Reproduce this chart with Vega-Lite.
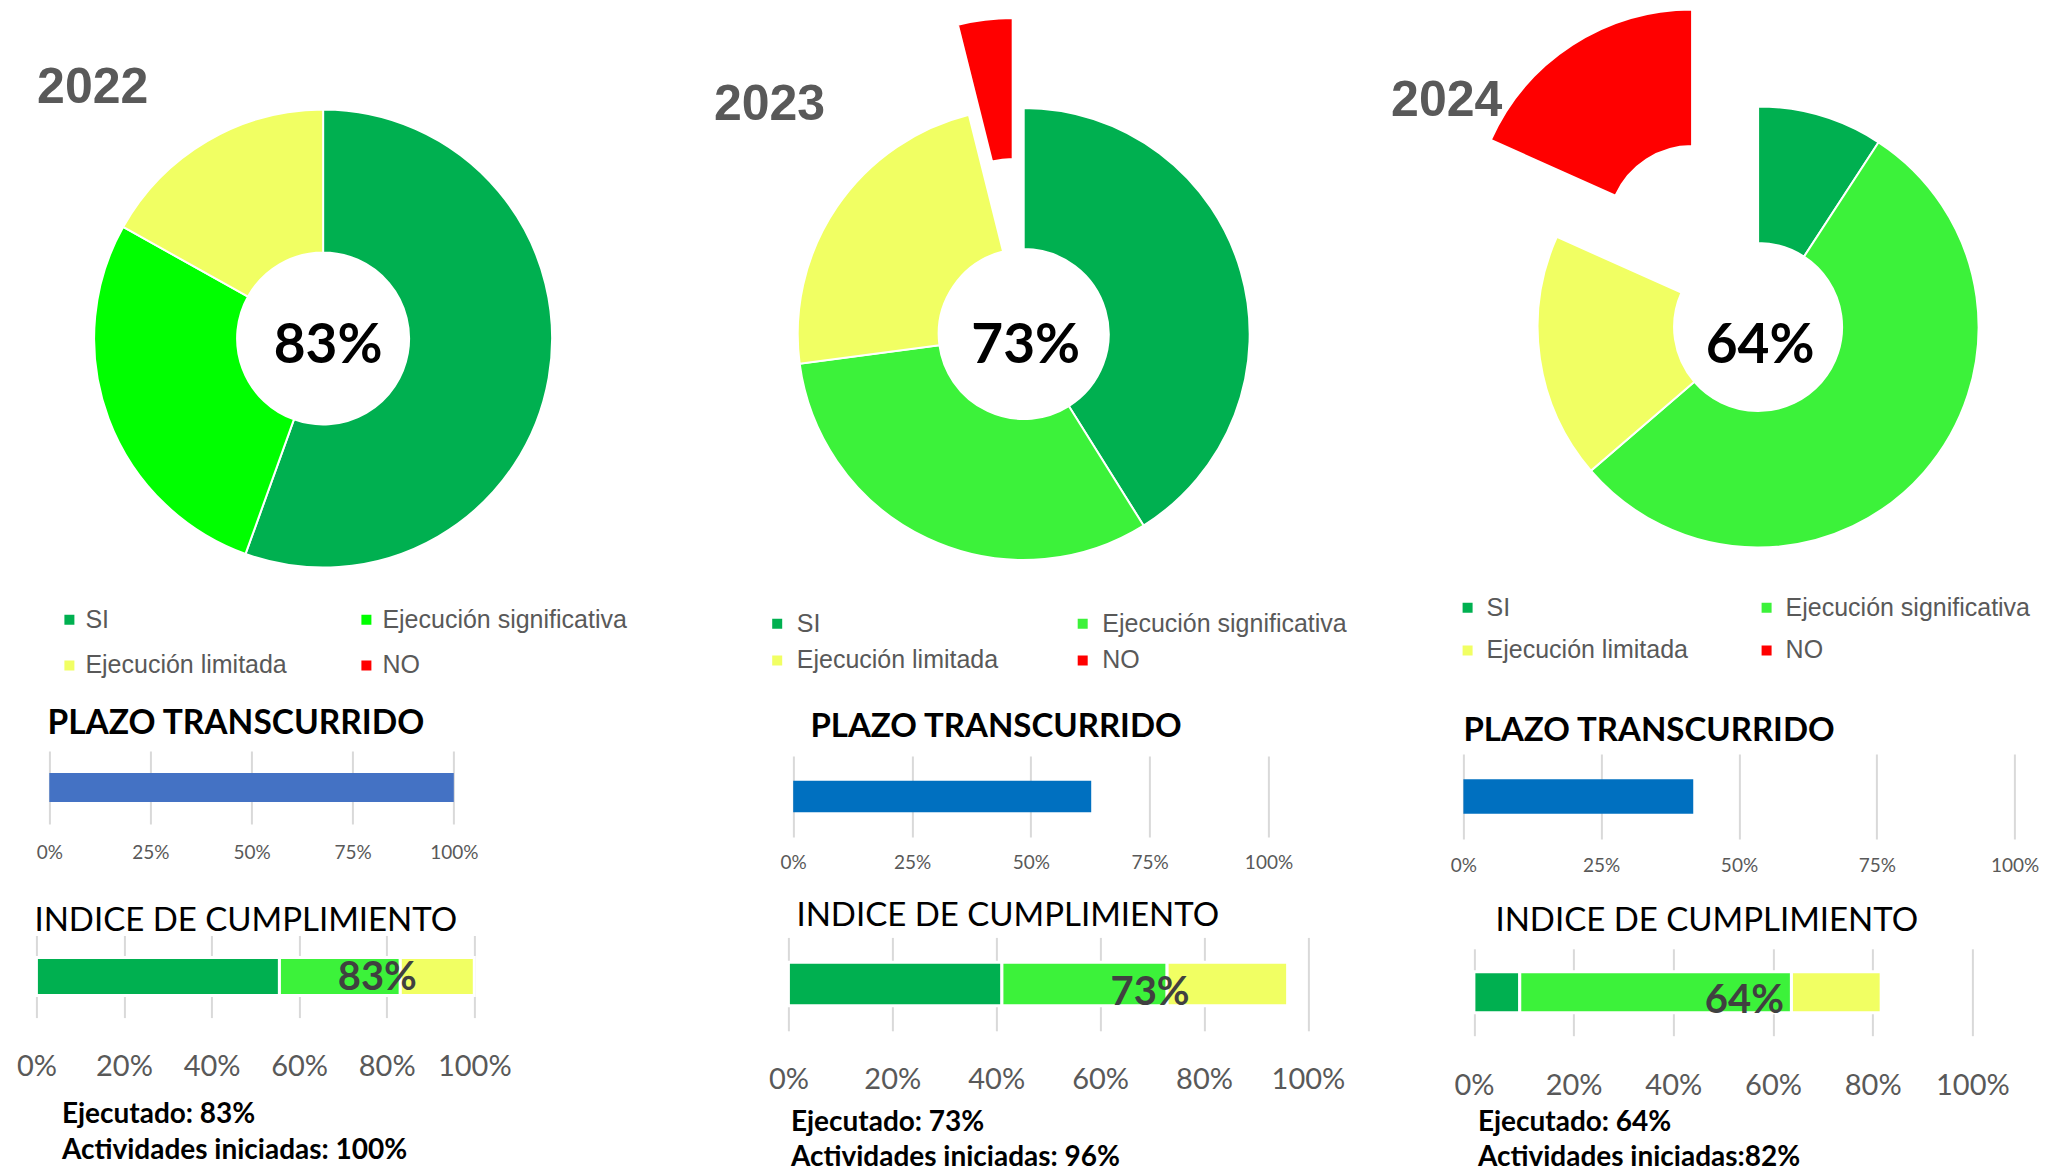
{
  "$schema": "https://vega.github.io/schema/vega-lite/v6.json",
  "background": "white",
  "padding": {"left": 15.4, "top": 0, "right": 0, "bottom": 0},
  "columns": 3,
  "spacing": {"row": 74, "column": 0},
  "bounds": "flush",
  "align": "each",
  "resolve": {
    "scale": {"color": "independent", "x": "independent", "y": "independent", "theta": "independent"},
    "legend": {"color": "independent"}
  },
  "config": {"view": {"stroke": null, "fill": "white"}},
  "datasets": {
    "cumplimiento": [
      {"anio": "2022", "cat": "SI", "orden": 1, "valor": 0.555},
      {"anio": "2022", "cat": "Ejecución significativa", "orden": 2, "valor": 0.276},
      {"anio": "2022", "cat": "Ejecución limitada", "orden": 3, "valor": 0.169},
      {"anio": "2022", "cat": "NO", "orden": 4, "valor": 0},
      {"anio": "2023", "cat": "SI", "orden": 1, "valor": 0.411},
      {"anio": "2023", "cat": "Ejecución significativa", "orden": 2, "valor": 0.318},
      {"anio": "2023", "cat": "Ejecución limitada", "orden": 3, "valor": 0.232},
      {"anio": "2023", "cat": "NO", "orden": 4, "valor": 0.039},
      {"anio": "2024", "cat": "SI", "orden": 1, "valor": 0.092},
      {"anio": "2024", "cat": "Ejecución significativa", "orden": 2, "valor": 0.545},
      {"anio": "2024", "cat": "Ejecución limitada", "orden": 3, "valor": 0.18},
      {"anio": "2024", "cat": "NO", "orden": 4, "valor": 0.183}
    ],
    "resumen": [
      {"anio": "2022", "ejecutado": 0.83, "iniciadas": 1.0, "plazo": 1.0},
      {"anio": "2023", "ejecutado": 0.73, "iniciadas": 0.96, "plazo": 0.627},
      {"anio": "2024", "ejecutado": 0.64, "iniciadas": 0.82, "plazo": 0.417}
    ]
  },
  "concat": [
    {
      "width": 573.4, "height": 677,
      "title": {"text": "2022", "anchor": "start", "frame": "group", "offset": -152.5, "dx": 0.7, "baseline": "alphabetic", "font": "Liberation Sans", "fontSize": 50, "fontWeight": "bold", "color": "#595959"},
      "layer": [
        {
          "data": {"name": "cumplimiento"},
          "transform": [{"filter": "datum.anio == '2022'"}],
          "mark": {"type": "arc", "outerRadius": 229, "innerRadius": 86, "stroke": "white", "strokeWidth": 2},
          "encoding": {
            "theta": {"field": "valor", "type": "quantitative", "stack": true},
            "order": {"field": "orden", "type": "quantitative"},
            "color": {
              "field": "cat", "type": "nominal",
              "scale": {"domain": ["SI", "Ejecución significativa", "Ejecución limitada", "NO"], "range": ["#00B050", "#00FF00", "#F1FF63", "#FF0000"]},
              "legend": {"orient": "none", "legendX": 20.5, "legendY": 607, "direction": "horizontal", "columns": 2, "title": null, "symbolType": "square", "symbolSize": 100, "symbolStrokeWidth": 0, "symbolOpacity": 1, "labelFont": "Liberation Sans", "labelFontSize": 25, "labelColor": "#595959", "labelLimit": 400, "labelOffset": 3.5, "columnPadding": 67, "rowPadding": 20, "padding": 0}
            },
            "opacity": {"condition": {"test": "datum.cat === 'NO'", "value": 0}, "value": 1}
          }
        },
        {
          "data": {"name": "resumen"},
          "transform": [{"filter": "datum.anio == '2022'"}],
          "mark": {"type": "text", "font": "Lato", "fontWeight": "bold", "fontSize": 55, "color": "black", "align": "center", "baseline": "alphabetic", "dx": 5, "dy": 24},
          "encoding": {"text": {"field": "ejecutado", "type": "quantitative", "format": ".0%"}}
        }
      ]
    },
    {
      "width": 470.6, "height": 668,
      "title": {"text": "2023", "anchor": "start", "frame": "group", "offset": -170, "dx": -74.5, "baseline": "alphabetic", "font": "Liberation Sans", "fontSize": 50, "fontWeight": "bold", "color": "#595959"},
      "layer": [
        {
          "data": {"name": "cumplimiento"},
          "transform": [{"filter": "datum.anio == '2023'"}],
          "mark": {"type": "arc", "outerRadius": 226, "innerRadius": 85, "stroke": "white", "strokeWidth": 2},
          "encoding": {
            "theta": {"field": "valor", "type": "quantitative", "stack": true},
            "order": {"field": "orden", "type": "quantitative"},
            "color": {
              "field": "cat", "type": "nominal",
              "scale": {"domain": ["SI", "Ejecución significativa", "Ejecución limitada", "NO"], "range": ["#00B050", "#3CF23A", "#F1FF63", "#FF0000"]},
              "legend": {"orient": "none", "legendX": -23.7, "legendY": 611, "direction": "horizontal", "columns": 2, "title": null, "symbolType": "square", "symbolSize": 100, "symbolStrokeWidth": 0, "symbolOpacity": 1, "labelFont": "Liberation Sans", "labelFontSize": 25, "labelColor": "#595959", "labelLimit": 400, "labelOffset": 7.1, "columnPadding": 71.5, "rowPadding": 11, "padding": 0}
            },
            "opacity": {"condition": {"test": "datum.cat === 'NO'", "value": 0}, "value": 1}
          }
        },
        {
          "data": {"name": "cumplimiento"},
          "transform": [{"filter": "datum.anio == '2023'"}],
          "mark": {"type": "arc", "outerRadius": 226, "innerRadius": 85, "stroke": "white", "strokeWidth": 2, "xOffset": -11, "yOffset": -90},
          "encoding": {
            "theta": {"field": "valor", "type": "quantitative", "stack": true},
            "order": {"field": "orden", "type": "quantitative"},
            "color": {"field": "cat", "type": "nominal"},
            "opacity": {"condition": {"test": "datum.cat === 'NO'", "value": 1}, "value": 0}
          }
        },
        {
          "data": {"name": "resumen"},
          "transform": [{"filter": "datum.anio == '2023'"}],
          "mark": {"type": "text", "font": "Lato", "fontWeight": "bold", "fontSize": 55, "color": "black", "align": "center", "baseline": "alphabetic", "dx": 2, "dy": 28.8},
          "encoding": {"text": {"field": "ejecutado", "type": "quantitative", "format": ".0%"}}
        }
      ]
    },
    {
      "width": 589.4, "height": 654,
      "title": {"text": "2024", "anchor": "start", "frame": "group", "offset": -165.8, "dx": -72.3, "baseline": "alphabetic", "font": "Liberation Sans", "fontSize": 50, "fontWeight": "bold", "color": "#595959"},
      "layer": [
        {
          "data": {"name": "cumplimiento"},
          "transform": [{"filter": "datum.anio == '2024'"}],
          "mark": {"type": "arc", "outerRadius": 220.5, "innerRadius": 84, "stroke": "white", "strokeWidth": 2},
          "encoding": {
            "theta": {"field": "valor", "type": "quantitative", "stack": true},
            "order": {"field": "orden", "type": "quantitative"},
            "color": {
              "field": "cat", "type": "nominal",
              "scale": {"domain": ["SI", "Ejecución significativa", "Ejecución limitada", "NO"], "range": ["#00B050", "#3CF23A", "#F1FF63", "#FF0000"]},
              "legend": {"orient": "none", "legendX": -8.3, "legendY": 595, "direction": "horizontal", "columns": 2, "title": null, "symbolType": "square", "symbolSize": 100, "symbolStrokeWidth": 0, "symbolOpacity": 1, "labelFont": "Liberation Sans", "labelFontSize": 25, "labelColor": "#595959", "labelLimit": 400, "labelOffset": 6.5, "columnPadding": 66, "rowPadding": 17, "padding": 0}
            },
            "opacity": {"condition": {"test": "datum.cat === 'NO'", "value": 0}, "value": 1}
          }
        },
        {
          "data": {"name": "cumplimiento"},
          "transform": [{"filter": "datum.anio == '2024'"}],
          "mark": {"type": "arc", "outerRadius": 220.5, "innerRadius": 84, "stroke": "white", "strokeWidth": 2, "xOffset": -66, "yOffset": -97},
          "encoding": {
            "theta": {"field": "valor", "type": "quantitative", "stack": true},
            "order": {"field": "orden", "type": "quantitative"},
            "color": {"field": "cat", "type": "nominal"},
            "opacity": {"condition": {"test": "datum.cat === 'NO'", "value": 1}, "value": 0}
          }
        },
        {
          "data": {"name": "resumen"},
          "transform": [{"filter": "datum.anio == '2024'"}],
          "mark": {"type": "text", "font": "Lato", "fontWeight": "bold", "fontSize": 55, "color": "black", "align": "center", "baseline": "alphabetic", "dx": 2, "dy": 35.8},
          "encoding": {"text": {"field": "ejecutado", "type": "quantitative", "format": ".0%"}}
        }
      ]
    },
    {
      "width": 751.4, "height": 73,
      "data": {"name": "resumen"},
      "transform": [{"filter": "datum.anio == '2022'"}],
      "title": {"text": "PLAZO TRANSCURRIDO", "anchor": "start", "frame": "group", "offset": -17, "dx": 11, "baseline": "alphabetic", "font": "Lato", "fontSize": 33.5, "fontWeight": "bold", "color": "black"},
      "mark": {"type": "bar", "color": "#4472C4"},
      "encoding": {
        "x": {"field": "plazo", "type": "quantitative", "scale": {"domain": [0, 1], "range": [12.9, 417.4], "nice": false},
          "axis": {"values": [0, 0.25, 0.5, 0.75, 1], "format": ".0%", "grid": true, "gridColor": "#D9D9D9", "gridWidth": 2, "domain": false, "ticks": false, "labelFont": "Lato", "labelFontSize": 19, "labelColor": "#595959", "labelPadding": 19.6, "labelFlush": false, "labelOverlap": false, "title": null}},
        "y": {"datum": "plazo", "type": "nominal", "scale": {"range": [0, 73], "paddingInner": 0, "paddingOuter": 0.759}, "axis": null}
      }
    },
    {
      "width": 674.6, "height": 91,
      "data": {"name": "resumen"},
      "transform": [{"filter": "datum.anio == '2023'"}],
      "title": {"text": "PLAZO TRANSCURRIDO", "anchor": "start", "frame": "group", "offset": -19.5, "dx": 22, "baseline": "alphabetic", "font": "Lato", "fontSize": 33, "fontWeight": "bold", "color": "black"},
      "mark": {"type": "bar", "color": "#0070C0"},
      "encoding": {
        "x": {"field": "plazo", "type": "quantitative", "scale": {"domain": [0, 1], "range": [4.8, 480.1], "nice": false},
          "axis": {"values": [0, 0.25, 0.5, 0.75, 1], "format": ".0%", "grid": true, "gridColor": "#D9D9D9", "gridWidth": 2, "domain": false, "ticks": false, "labelFont": "Lato", "labelFontSize": 19, "labelColor": "#595959", "labelPadding": 11.6, "labelFlush": false, "labelOverlap": false, "title": null}},
        "y": {"datum": "plazo", "type": "nominal", "scale": {"range": [5, 86], "paddingInner": 0, "paddingOuter": 0.782}, "axis": null}
      }
    },
    {
      "width": 589.4, "height": 91,
      "data": {"name": "resumen"},
      "transform": [{"filter": "datum.anio == '2024'"}],
      "title": {"text": "PLAZO TRANSCURRIDO", "anchor": "start", "frame": "group", "offset": -23, "dx": 0, "baseline": "alphabetic", "font": "Lato", "fontSize": 33, "fontWeight": "bold", "color": "black"},
      "mark": {"type": "bar", "color": "#0070C0"},
      "encoding": {
        "x": {"field": "plazo", "type": "quantitative", "scale": {"domain": [0, 1], "range": [0, 551.2], "nice": false},
          "axis": {"values": [0, 0.25, 0.5, 0.75, 1], "format": ".0%", "grid": true, "gridColor": "#D9D9D9", "gridWidth": 2, "domain": false, "ticks": false, "labelFont": "Lato", "labelFontSize": 19, "labelColor": "#595959", "labelPadding": 14.6, "labelFlush": false, "labelOverlap": false, "title": null}},
        "y": {"datum": "plazo", "type": "nominal", "scale": {"range": [3, 88], "paddingInner": 0, "paddingOuter": 0.728}, "axis": null}
      }
    },
    {
      "width": 751.4, "height": 121.1,
      "title": {"text": "INDICE DE CUMPLIMIENTO", "anchor": "start", "frame": "group", "offset": -48.5, "dx": -2, "baseline": "alphabetic", "font": "Lato", "fontSize": 33, "fontWeight": "normal", "color": "black"},
      "layer": [
        {
          "data": {"name": "cumplimiento"},
          "transform": [{"filter": "datum.anio == '2022' && datum.cat !== 'NO'"}],
          "mark": {"type": "bar", "stroke": "white", "strokeWidth": 3},
          "encoding": {
            "x": {"field": "valor", "type": "quantitative", "stack": "zero", "scale": {"domain": [0, 1], "range": [0, 437.9], "nice": false},
              "axis": {"values": [0, 0.2, 0.4, 0.6, 0.8, 1], "format": ".0%", "grid": true, "gridColor": "#D9D9D9", "gridWidth": 2, "domain": false, "ticks": false, "labelFont": "Lato", "labelFontSize": 29, "labelColor": "#595959", "labelPadding": 15.5, "labelFlush": false, "labelOverlap": false,
                "title": ["Ejecutado: 83%", "Actividades iniciadas: 100%"], "titleFont": "Lato", "titleFontSize": 28, "titleFontWeight": "bold", "titleColor": "black", "titleAlign": "left", "titleAnchor": "start", "titleBaseline": "alphabetic", "titleX": 25, "titleY": 85.9, "titleLineHeight": 36}},
            "y": {"datum": "indice", "type": "nominal", "scale": {"range": [19.5, 101.6], "paddingInner": 0, "paddingOuter": 0.58}, "axis": null},
            "color": {"field": "cat", "type": "nominal", "scale": {"domain": ["SI", "Ejecución significativa", "Ejecución limitada"], "range": ["#00B050", "#3CF23A", "#F1FF63"]}, "legend": null},
            "order": {"field": "orden", "type": "quantitative"}
          }
        },
        {
          "data": {"name": "resumen"},
          "transform": [{"filter": "datum.anio == '2022'"}],
          "mark": {"type": "text", "font": "Lato", "fontWeight": "bold", "fontSize": 40, "color": "#404040", "align": "right", "baseline": "alphabetic", "dx": 17, "dy": 13},
          "encoding": {
            "x": {"field": "ejecutado", "type": "quantitative"},
            "y": {"datum": "indice", "type": "nominal"},
            "text": {"field": "ejecutado", "type": "quantitative", "format": ".0%"}
          }
        }
      ]
    },
    {
      "width": 674.6, "height": 136.2,
      "title": {"text": "INDICE DE CUMPLIMIENTO", "anchor": "start", "frame": "group", "offset": -43.4, "dx": 8, "baseline": "alphabetic", "font": "Lato", "fontSize": 33, "fontWeight": "normal", "color": "black"},
      "layer": [
        {
          "data": {"name": "cumplimiento"},
          "transform": [{"filter": "datum.anio == '2023' && datum.cat !== 'NO'"}],
          "mark": {"type": "bar", "stroke": "white", "strokeWidth": 3},
          "encoding": {
            "x": {"field": "valor", "type": "quantitative", "stack": "zero", "scale": {"domain": [0, 1], "range": [0, 519.5], "nice": false},
              "axis": {"values": [0, 0.2, 0.4, 0.6, 0.8, 1], "format": ".0%", "grid": true, "gridColor": "#D9D9D9", "gridWidth": 2, "domain": false, "ticks": false, "labelFont": "Lato", "labelFontSize": 29, "labelColor": "#595959", "labelPadding": 13.7, "labelFlush": false, "labelOverlap": false,
                "title": ["Ejecutado: 73%", "Actividades iniciadas: 96%"], "titleFont": "Lato", "titleFontSize": 28, "titleFontWeight": "bold", "titleColor": "black", "titleAlign": "left", "titleAnchor": "start", "titleBaseline": "alphabetic", "titleX": 2, "titleY": 78.8, "titleLineHeight": 35}},
            "y": {"datum": "indice", "type": "nominal", "scale": {"range": [21.4, 114.8], "paddingInner": 0, "paddingOuter": 0.574}, "axis": null},
            "color": {"field": "cat", "type": "nominal", "scale": {"domain": ["SI", "Ejecución significativa", "Ejecución limitada"], "range": ["#00B050", "#3CF23A", "#F1FF63"]}, "legend": null},
            "order": {"field": "orden", "type": "quantitative"}
          }
        },
        {
          "data": {"name": "resumen"},
          "transform": [{"filter": "datum.anio == '2023'"}],
          "mark": {"type": "text", "font": "Lato", "fontWeight": "bold", "fontSize": 40, "color": "#404040", "align": "right", "baseline": "alphabetic", "dx": 22, "dy": 21.4},
          "encoding": {
            "x": {"field": "ejecutado", "type": "quantitative"},
            "y": {"datum": "indice", "type": "nominal"},
            "text": {"field": "ejecutado", "type": "quantitative", "format": ".0%"}
          }
        }
      ]
    },
    {
      "width": 589.4, "height": 152.5,
      "title": {"text": "INDICE DE CUMPLIMIENTO", "anchor": "start", "frame": "group", "offset": -48, "dx": 32, "baseline": "alphabetic", "font": "Lato", "fontSize": 33, "fontWeight": "normal", "color": "black"},
      "layer": [
        {
          "data": {"name": "cumplimiento"},
          "transform": [{"filter": "datum.anio == '2024' && datum.cat !== 'NO'"}],
          "mark": {"type": "bar", "stroke": "white", "strokeWidth": 3},
          "encoding": {
            "x": {"field": "valor", "type": "quantitative", "stack": "zero", "scale": {"domain": [0, 1], "range": [10.5, 509], "nice": false},
              "axis": {"values": [0, 0.2, 0.4, 0.6, 0.8, 1], "format": ".0%", "grid": true, "gridColor": "#D9D9D9", "gridWidth": 2, "domain": false, "ticks": false, "labelFont": "Lato", "labelFontSize": 29, "labelColor": "#595959", "labelPadding": 3, "labelFlush": false, "labelOverlap": false,
                "title": ["Ejecutado: 64%", "Actividades iniciadas:82%"], "titleFont": "Lato", "titleFontSize": 28, "titleFontWeight": "bold", "titleColor": "black", "titleAlign": "left", "titleAnchor": "start", "titleBaseline": "alphabetic", "titleX": 14, "titleY": 62.5, "titleLineHeight": 35}},
            "y": {"datum": "indice", "type": "nominal", "scale": {"range": [32.8, 119.7], "paddingInner": 0, "paddingOuter": 0.565}, "axis": null},
            "color": {"field": "cat", "type": "nominal", "scale": {"domain": ["SI", "Ejecución significativa", "Ejecución limitada"], "range": ["#00B050", "#3CF23A", "#F1FF63"]}, "legend": null},
            "order": {"field": "orden", "type": "quantitative"}
          }
        },
        {
          "data": {"name": "resumen"},
          "transform": [{"filter": "datum.anio == '2024'"}],
          "mark": {"type": "text", "font": "Lato", "fontWeight": "bold", "fontSize": 40, "color": "#404040", "align": "right", "baseline": "alphabetic", "dx": -9, "dy": 20.8},
          "encoding": {
            "x": {"field": "ejecutado", "type": "quantitative"},
            "y": {"datum": "indice", "type": "nominal"},
            "text": {"field": "ejecutado", "type": "quantitative", "format": ".0%"}
          }
        }
      ]
    }
  ]
}
